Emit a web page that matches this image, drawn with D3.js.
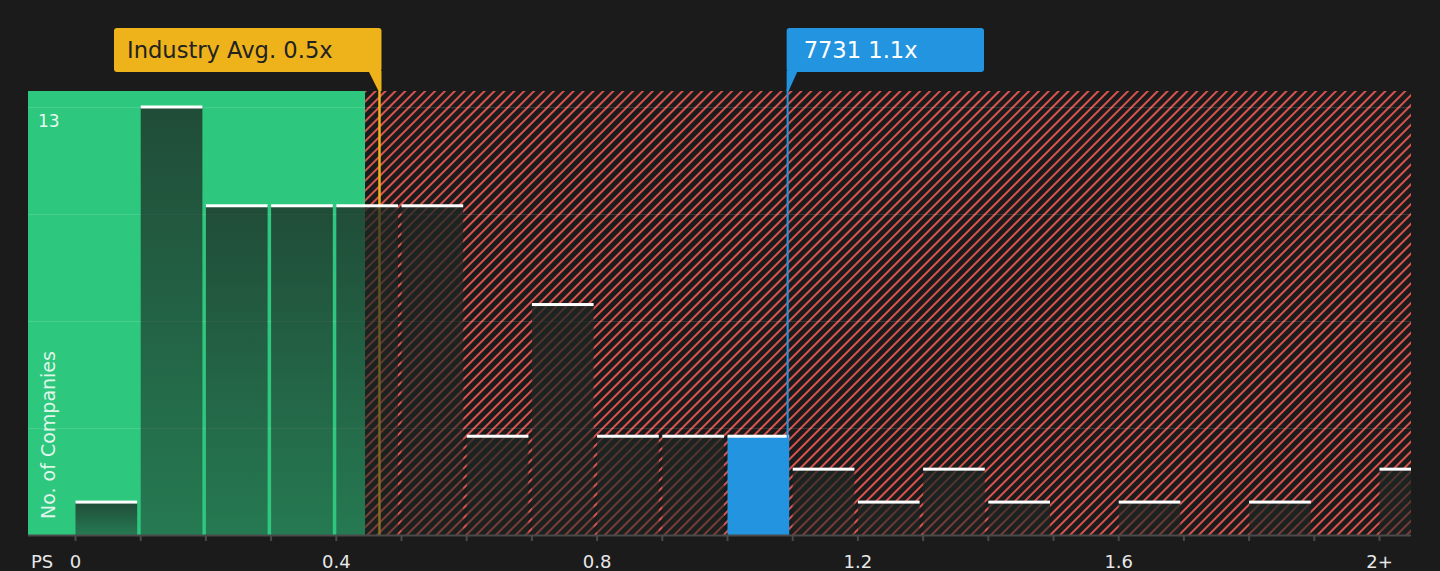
<!DOCTYPE html>
<html>
<head>
<meta charset="utf-8">
<script src="https://cdn.jsdelivr.net/npm/d3@7"></script>
<style>
  html, body { margin: 0; padding: 0; background: #1b1b1b; }
  svg { display: block; font-family: "DejaVu Sans", sans-serif; }
</style>
</head>
<body>
<svg id="chart" width="1440" height="571"></svg>
<script>
// ---- data ----
const binStarts = [0.0, 0.1, 0.2, 0.3, 0.4, 0.5, 0.6, 0.7, 0.8, 0.9, 1.0, 1.1, 1.2, 1.3, 1.4, 1.5, 1.6, 1.7, 1.8, 1.9, 2.0];
const counts    = [1, 13, 10, 10, 10, 10, 3, 7, 3, 3, 3, 2, 1, 2, 1, 0, 1, 0, 1, 0, 2];
const binWidth = 0.1;
const tickValues = [0, 0.4, 0.8, 1.2, 1.6, 2.0];
const tickLabels = ["0", "0.4", "0.8", "1.2", "1.6", "2+"];
const minorTicks = [0, 0.1, 0.2, 0.3, 0.4, 0.5, 0.6, 0.7, 0.8, 0.9, 1.0, 1.1, 1.2, 1.3, 1.4, 1.5, 1.6, 1.7, 1.8, 1.9, 2.0];
const yMax = 13;
const fairLimit = 0.445;        // end of green zone
const industryAvg = 0.467;      // industry average marker
const industryLabel = "Industry Avg. 0.5x";
const companyValue = 1.093;     // company marker
const companyLabel = "7731 1.1x";
const companyBin = 1.0;
const xAxisTitle = "PS";
const yAxisTitle = "No. of Companies";

// ---- layout ----
const plotLeft = 28, plotRight = 1411, plotTop = 91, plotBottom = 535;

const svg = d3.select("#chart");
const x = d3.scaleLinear().domain([0, 2]).range([75, 1379]);
const y = d3.scaleLinear().domain([0, yMax]).range([plotBottom, 107]);

const defs = svg.append("defs");
const pat = defs.append("pattern")
  .attr("id", "hatch").attr("patternUnits", "userSpaceOnUse")
  .attr("width", 7).attr("height", 7)
  .attr("patternTransform", "rotate(45)");
pat.append("rect").attr("width", 7).attr("height", 7).attr("fill", "#1b1b1b");
pat.append("line").attr("x1", 1).attr("x2", 1).attr("y1", 0).attr("y2", 7)
  .attr("stroke", "#d9534f").attr("stroke-width", 2);

const grad = defs.append("linearGradient").attr("id", "barGrad")
  .attr("x1", 0).attr("x2", 0).attr("y1", 0).attr("y2", 1);
grad.append("stop").attr("offset", "0%").attr("stop-color", "#1c2622").attr("stop-opacity", 0.76);
grad.append("stop").attr("offset", "100%").attr("stop-color", "#1c2622").attr("stop-opacity", 0.48);

defs.append("clipPath").attr("id", "plotClip").append("rect")
  .attr("x", plotLeft).attr("y", plotTop - 5).attr("width", plotRight - plotLeft).attr("height", plotBottom - plotTop + 5);

// backgrounds
svg.append("rect").attr("x", plotLeft).attr("y", plotTop)
  .attr("width", x(fairLimit) - plotLeft).attr("height", plotBottom - plotTop)
  .attr("fill", "#2ec77e");
svg.append("rect").attr("x", x(fairLimit)).attr("y", plotTop)
  .attr("width", plotRight - x(fairLimit)).attr("height", plotBottom - plotTop)
  .attr("fill", "url(#hatch)");

// gridlines
const gridVals = [yMax * 0.25, yMax * 0.5, yMax * 0.75, yMax];
svg.append("g").selectAll("line").data(gridVals).join("line")
  .attr("x1", plotLeft).attr("x2", plotRight)
  .attr("y1", d => Math.round(y(d)) + 0.5).attr("y2", d => Math.round(y(d)) + 0.5)
  .attr("stroke", "rgba(255,255,255,0.13)").attr("stroke-width", 1);

// industry line (under bars)
svg.append("line")
  .attr("x1", x(industryAvg)).attr("x2", x(industryAvg))
  .attr("y1", plotTop).attr("y2", plotBottom)
  .attr("stroke", "#eeb31b").attr("stroke-width", 2.5);

// bars
const bars = binStarts.map((b, i) => ({ b, c: counts[i] })).filter(d => d.c > 0);
const gBars = svg.append("g").attr("clip-path", "url(#plotClip)");
gBars.selectAll("rect.bar").data(bars).join("rect")
  .attr("class", "bar")
  .attr("x", d => x(d.b) + 0.5)
  .attr("width", d => x(d.b + binWidth) - x(d.b) - 3.5)
  .attr("y", d => y(d.c))
  .attr("height", d => plotBottom - y(d.c))
  .attr("fill", d => Math.abs(d.b - companyBin) < 1e-9 ? "#2394e0" : "url(#barGrad)");
gBars.selectAll("rect.cap").data(bars).join("rect")
  .attr("class", "cap")
  .attr("x", d => x(d.b) + 0.5)
  .attr("width", d => x(d.b + binWidth) - x(d.b) - 3.5)
  .attr("y", d => y(d.c) - 1.5)
  .attr("height", 3)
  .attr("fill", "#ffffff");

// company line
svg.append("line")
  .attr("x1", x(companyValue)).attr("x2", x(companyValue))
  .attr("y1", plotTop - 2).attr("y2", plotBottom)
  .attr("stroke", "#2394e0").attr("stroke-width", 2);

// x axis
const axis = d3.axisBottom(x).tickValues(minorTicks).tickSizeInner(6).tickSizeOuter(0).tickPadding(14)
  .tickFormat(d => {
    const idx = tickValues.findIndex(t => Math.abs(t - d) < 1e-9);
    return idx >= 0 ? tickLabels[idx] : "";
  });
const gAxis = svg.append("g").attr("transform", `translate(0,${plotBottom})`).call(axis);
gAxis.select(".domain").remove();
gAxis.insert("line", ":first-child").attr("x1", plotLeft).attr("x2", plotRight)
  .attr("y1", 0.5).attr("y2", 0.5).attr("stroke", "#4a4a4a").attr("stroke-width", 2);
gAxis.selectAll(".tick line").attr("stroke", "#4a4a4a").attr("stroke-width", 2);
gAxis.selectAll(".tick text").attr("fill", "#e8e8e8").attr("font-size", 18)
  .attr("font-family", "DejaVu Sans, sans-serif");

svg.append("text").attr("x", 31).attr("y", 568).attr("fill", "#e8e8e8")
  .attr("font-size", 18).text(xAxisTitle);

// y labels
svg.append("text").attr("x", 38).attr("y", 127).attr("fill", "rgba(255,255,255,0.9)")
  .attr("font-size", 17).text(String(yMax));
svg.append("text").attr("transform", "translate(55,519) rotate(-90)")
  .attr("fill", "rgba(255,255,255,0.85)").attr("font-size", 19).text(yAxisTitle);

// industry callout
const ix = x(industryAvg);
const gInd = svg.append("g");
gInd.append("rect").attr("x", 114).attr("y", 28).attr("width", ix + 2 - 114).attr("height", 44)
  .attr("rx", 3).attr("fill", "#eeb31b");
gInd.append("path")
  .attr("d", `M${ix - 11},71 L${ix + 2},71 L${ix + 2},91 L${ix - 1},91 Z`)
  .attr("fill", "#eeb31b");
gInd.append("text").attr("x", 127).attr("y", 58).attr("fill", "#222222")
  .attr("font-size", 22.6).text(industryLabel);

// company callout
const cx = x(companyValue);
const gCo = svg.append("g");
gCo.append("rect").attr("x", cx - 1).attr("y", 28).attr("width", 984 - cx + 1).attr("height", 44)
  .attr("rx", 3).attr("fill", "#2394e0");
gCo.append("path")
  .attr("d", `M${cx - 1},71 L${cx + 10},71 L${cx + 1},91 L${cx - 1},91 Z`)
  .attr("fill", "#2394e0");
gCo.append("text").attr("x", cx + 16).attr("y", 58).attr("fill", "#ffffff")
  .attr("font-size", 22.6).text(companyLabel);
</script>
</body>
</html>
